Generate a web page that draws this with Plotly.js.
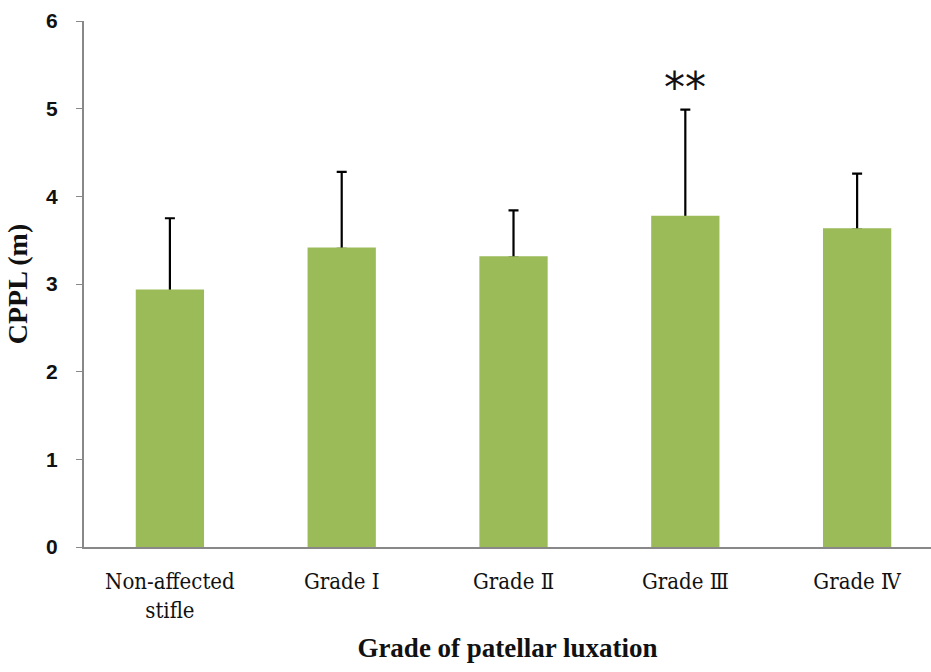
<!DOCTYPE html>
<html>
<head>
<meta charset="utf-8">
<script src="https://cdn.plot.ly/plotly-3.0.1.min.js"></script>
<style>html,body{margin:0;padding:0;background:#fff;}#chart{width:931px;height:672px;}</style>
</head>
<body>
<div id="chart"></div>
<script>
const categories = ["Non-affected<br>stifle", "Grade Ⅰ", "Grade Ⅱ", "Grade Ⅲ", "Grade Ⅳ"];
const means = [2.92, 3.40, 3.30, 3.76, 3.62];
const sdUpper = [0.83, 0.88, 0.54, 1.23, 0.64];
const yTicks = [0, 1, 2, 3, 4, 5, 6];
const sigLabel = "**";
const sigIndex = 3;

const barColor = "#9bbb59";

const errTrace = {
  type: "bar",
  x: categories,
  y: means,
  marker: {color: barColor, line: {color: barColor, width: 0}},
  error_y: {type: "data", symmetric: false, array: sdUpper, arrayminus: means.map(() => 0),
            color: "#000", thickness: 2.2, width: 5},
  hoverinfo: "none"
};
const barTrace = {
  type: "bar",
  x: categories,
  y: means,
  marker: {color: barColor, line: {color: barColor, width: 3}},
  hoverinfo: "none"
};

const layout = {
  width: 931, height: 672,
  margin: {l: 84, r: 0, t: 21, b: 125},
  paper_bgcolor: "#fff", plot_bgcolor: "#fff",
  showlegend: false,
  barmode: "overlay",
  bargap: 0.62,
  xaxis: {
    type: "category",
    range: [-0.5, 4.43],
    showline: true, linecolor: "#888", linewidth: 2,
    ticks: "", showgrid: false,
    ticklabelstandoff: 14,
    tickfont: {family: "DejaVu Serif Condensed, DejaVu Serif, serif", size: 22, color: "#111"},
    title: {text: "Grade of patellar luxation", standoff: 16,
            font: {family: "Liberation Serif, serif", size: 27, color: "#111", weight: "bold"}}
  },
  yaxis: {
    range: [0, 6],
    tickvals: yTicks,
    showline: true, linecolor: "#888", linewidth: 2,
    ticks: "outside", ticklen: 6, tickcolor: "#888", tickwidth: 1,
    showgrid: false, zeroline: false,
    ticklabelstandoff: 14,
    tickfont: {family: "Liberation Sans Narrow, Liberation Sans, sans-serif", size: 21, color: "#111", weight: "bold"},
    title: {text: "CPPL (m)", standoff: 10,
            font: {family: "Liberation Serif, serif", size: 28, color: "#111", weight: "bold"}}
  },
  annotations: [{
    x: categories[sigIndex], y: means[sigIndex] + sdUpper[sigIndex],
    xref: "x", yref: "y", text: sigLabel, showarrow: false,
    yanchor: "bottom", yshift: -4,
    font: {family: "DejaVu Sans, sans-serif", size: 42, color: "#111"}
  }]
};

Plotly.newPlot("chart", [errTrace, barTrace], layout, {staticPlot: true, displayModeBar: false});
</script>
</body>
</html>
